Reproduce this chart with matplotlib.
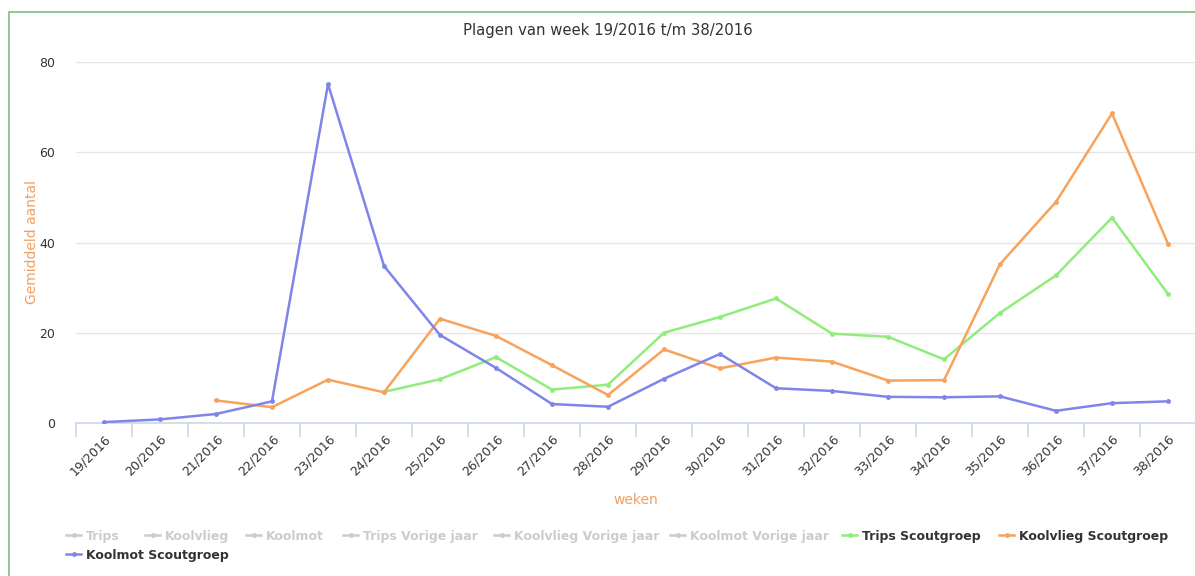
import matplotlib.pyplot as plt
from matplotlib.lines import Line2D
from matplotlib.patches import Rectangle
import numpy as np

weeks = [f"{w}/2016" for w in range(19, 39)]

# Gemiddeld aantal per week (None = geen meting)
trips_scout = [None, None, None, None, None, 6.9, 9.7, 14.6, 7.4, 8.5,
               20.0, 23.5, 27.6, 19.8, 19.1, 14.1, 24.4, 32.7, 45.5, 28.6]
koolvlieg_scout = [None, None, 5.0, 3.5, 9.6, 6.8, 23.1, 19.3, 12.8, 6.2,
                   16.3, 12.1, 14.5, 13.6, 9.4, 9.5, 35.2, 49.0, 68.6, 39.7]
koolmot_scout = [0.2, 0.8, 2.0, 4.8, 75.1, 34.8, 19.5, 12.2, 4.2, 3.6,
                 9.8, 15.3, 7.7, 7.1, 5.8, 5.7, 5.9, 2.7, 4.4, 4.8]

hidden_series = ["Trips", "Koolvlieg", "Koolmot", "Trips Vorige jaar",
                 "Koolvlieg Vorige jaar", "Koolmot Vorige jaar"]
visible_series = [("Trips Scoutgroep", trips_scout, "#90ed7d"),
                  ("Koolvlieg Scoutgroep", koolvlieg_scout, "#f7a35c"),
                  ("Koolmot Scoutgroep", koolmot_scout, "#8085e9")]

W, H, DPI = 1195, 576, 100
fig = plt.figure(figsize=(W / DPI, H / DPI), dpi=DPI)
plt.rcParams['font.family'] = ['DejaVu Sans']

# kader rond de grafiek
fig.add_artist(Rectangle((9 / W, -0.05), 1.2, 1 - 12 / H + 0.05,
                         transform=fig.transFigure, fill=False,
                         edgecolor="#7fbf7f", linewidth=1.2))

ax = fig.add_axes([76 / W, 1 - 423 / H, 1120 / W, 361 / H])
x = np.arange(len(weeks))
for name, vals, color in visible_series:
    y = np.array([np.nan if v is None else v for v in vals])
    ax.plot(x, y, color=color, linewidth=1.8, marker="o", markersize=2.5,
            zorder=3)

ax.set_xlim(-0.5, len(weeks) - 0.5)
ax.set_ylim(0, 80)
ax.set_yticks([0, 20, 40, 60, 80])
ax.grid(axis="y", color="#e6e6e6", linewidth=1)
ax.set_axisbelow(True)
for s in ["top", "right", "left"]:
    ax.spines[s].set_visible(False)
ax.spines["bottom"].set_color("#ccd6eb")
ax.spines["bottom"].set_linewidth(1.2)

ax.set_xticks(x)
ax.set_xticklabels(weeks, rotation=45, ha="right", rotation_mode="anchor",
                   fontsize=9, color="#333333")
ax.tick_params(axis="x", length=0, pad=7)
ax.set_xticks(np.arange(-0.5, len(weeks)), minor=True)
ax.tick_params(axis="x", which="minor", length=10, color="#ccd6eb", width=1.2)
ax.tick_params(axis="y", length=0, labelsize=9, labelcolor="#333333", pad=15)

ax.set_xlabel("weken", color="#f0a065", fontsize=10, va="center")
ax.xaxis.set_label_coords(0.5, (423 - 500) / 361)
ax.set_ylabel("Gemiddeld aantal", color="#f0a065", fontsize=10, va="center")
ax.yaxis.set_label_coords((32 - 76) / 1120, 0.5)
fig.text(608 / W, 1 - 30 / H, "Plagen van week 19/2016 t/m 38/2016",
         ha="center", va="center", fontsize=10.7, color="#333333")

items = [(n, "#cccccc", "#cccccc") for n in hidden_series]
items += [(n, c, "#333333") for n, _, c in visible_series]
legend_x = [66, 145, 246, 343, 494, 670, 842, 999, 66]
legend_y = [535] * 8 + [554]
for (name, symcol, txtcol), lx, ly in zip(items, legend_x, legend_y):
    yy = 1 - ly / H
    fig.add_artist(Line2D([lx / W, (lx + 15) / W], [yy, yy],
                          transform=fig.transFigure, color=symcol, linewidth=1.8))
    fig.add_artist(Line2D([(lx + 7.5) / W], [yy], transform=fig.transFigure,
                          color=symcol, marker="o", markersize=2.5))
    fig.text((lx + 20) / W, yy, name, ha="left", va="center_baseline",
             fontsize=9.0, fontweight="bold", color=txtcol)

fig.savefig("out.png", dpi=DPI)
